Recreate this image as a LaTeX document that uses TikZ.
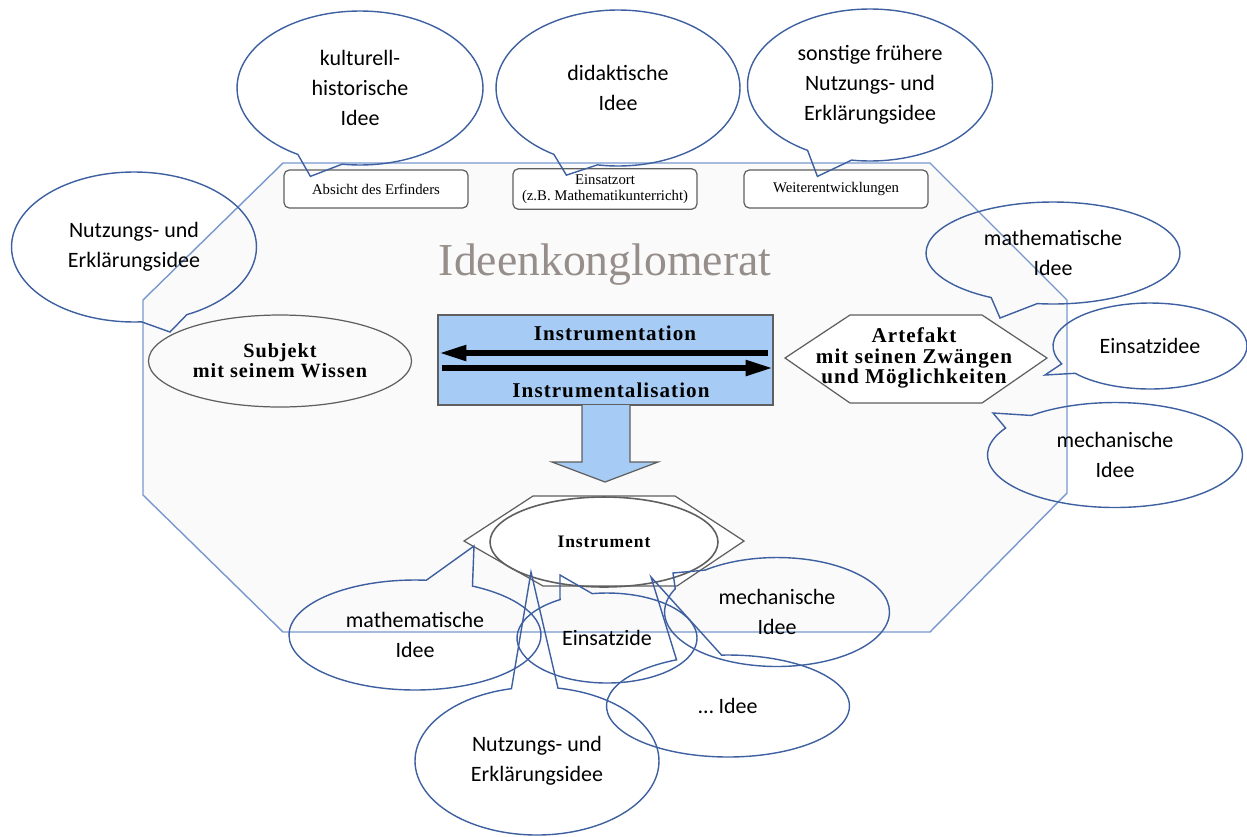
\documentclass[tikz,border=0pt]{standalone}
\usepackage{fontspec}
\setmainfont{Liberation Serif}
\newfontfamily\calibri{Carlito}
\newfontfamily\widebold[LetterSpace=5]{Liberation Serif}
\usetikzlibrary{shapes.geometric, shapes.callouts, arrows.meta, positioning, calc}
\definecolor{bubbleblue}{RGB}{62, 96, 160}
\definecolor{octblue}{RGB}{120, 152, 205}
\definecolor{boxblue}{RGB}{166, 204, 245}
\definecolor{titlegray}{RGB}{150, 142, 138}
\definecolor{framegray}{RGB}{95, 95, 95}

\begin{document}
\begin{tikzpicture}[x=0.02cm, y=-0.02cm,
    bubble/.style={ellipse callout, draw=bubbleblue, line width=0.8pt,
      callout pointer arc=22, align=center, inner sep=0pt,
      font=\calibri\fontsize{12.5}{17}\selectfont},
    smallbox/.style={draw=framegray, fill=white, rounded corners=3pt,
      line width=0.7pt, minimum width=3.68cm, minimum height=0.76cm,
      align=center, font=\fontsize{8.4}{9}\selectfont},
    shapeline/.style={draw=framegray, line width=0.7pt},
    boldtext/.style={font=\widebold\bfseries\fontsize{12}{11.5}\selectfont, align=center},
    flow/.style={-{Triangle[length=0.54cm, width=0.3cm]}, line width=3pt}
  ]
  \useasboundingbox (0,0) rectangle (1247,836);

  % Ideenkonglomerat
  \draw[octblue, line width=0.8pt, fill=black!2] (283,163) -- (930,163) -- (1067,300)
    -- (1067,493) -- (930,632) -- (283,632) -- (143,495) -- (143,300) -- cycle;
  \node[font=\fontsize{26}{26}\selectfont, text=titlegray, anchor=base] (title)
    at (605,275) {Ideenkonglomerat};

  % Upper boxes
  \foreach \name/\x/\txt in {absicht/376/Absicht des Erfinders,
      ort/605/Einsatzort\\(z.B. Mathematikunterricht),
      weiter/836/Weiterentwicklungen}{
    \node[smallbox] (\name) at (\x,189) {\txt};
  }

  % Subjekt
  \node[ellipse, shapeline, minimum width=4.68cm, minimum height=1.84cm, boldtext,
        font=\widebold\bfseries\fontsize{11.5}{11.3}\selectfont] (subjekt)
    at (280,361) {Subjekt\\mit seinem Wissen};

  % Instrumentation / Instrumentalisation
  \node[rectangle, shapeline, fill=boxblue, minimum width=6.7cm, minimum height=1.8cm]
    (genese) at (605.5,360) {};
  \node[boldtext] (instr) at (615,333) {Instrumentation};
  \node[boldtext] (instral) at (611,390) {Instrumentalisation};
  \draw[flow] ($(genese.east)+(-6,-7)$) -- ($(genese.west)+(2,-7)$);
  \draw[flow] ($(genese.west)+(5,8)$) -- ($(genese.east)+(-1,8)$);
  \draw[shapeline, fill=boxblue] (582,405) -- (582,462) -- (552,462) -- (605,482)
    -- (658,462) -- (630,462) -- (630,405);

  % Artefakt
  \draw[shapeline, fill=white] (785,358) -- (850,315) -- (982,315) -- (1047,358)
    -- (982,403) -- (850,403) -- cycle;
  \node[boldtext] (artefakt) at (914,358) {Artefakt\\mit seinen Zwängen\\und Möglichkeiten};

  % Instrument
  \draw[shapeline, fill=white] (464,541) -- (533,496) -- (675,496) -- (744,541)
    -- (677,586) -- (543,586) -- cycle;
  \node[ellipse, draw=framegray, line width=0.9pt, minimum width=4.56cm,
        minimum height=1.8cm, font=\widebold\bfseries\fontsize{10}{10}\selectfont]
    (instrument) at (604,542) {Instrument};

  % Pointer tips
  \coordinate (tipKult) at ($(absicht.north west)+(27,7)$);
  \coordinate (tipDid) at ($(ort.north west)+(54,7)$);
  \coordinate (tipSonst) at ($(weiter.north west)+(74,7)$);
  \coordinate (tipNutzL) at (170,332);
  \coordinate (tipMathR) at (1000,318);
  \coordinate (tipEinsR) at (1045,375);
  \coordinate (tipMechR) at (993,413);
  \coordinate (tipMathB) at (474,546);
  \coordinate (tipEinsB) at (560,575);
  \coordinate (tipNutzB) at (531,572);
  \coordinate (tipMechB) at (673,573);
  \coordinate (tipEtcB) at (651,577);

  % Ideas above
  \node[bubble, minimum width=4.92cm, minimum height=3.08cm,
        callout absolute pointer={(tipKult)}] (kultur) at (360,88) {kulturell-\\historische\\Idee};
  \node[bubble, minimum width=4.88cm, minimum height=3.12cm,
        callout absolute pointer={(tipDid)}] (didaktik) at (618,88) {didaktische\\Idee};
  \node[bubble, minimum width=4.9cm, minimum height=3.04cm,
        callout absolute pointer={(tipSonst)}] (sonstige) at (870,85) {sonstige frühere\\Nutzungs- und\\Erklärungsidee};
  \node[bubble, minimum width=4.9cm, minimum height=3cm,
        callout absolute pointer={(tipNutzL)}] (nutzL) at (134,247) {Nutzungs- und\\Erklärungsidee};

  % Ideas right
  \node[bubble, minimum width=5.08cm, minimum height=2.04cm,
        callout absolute pointer={(tipMathR)}] (mathR) at (1053,253) {mathematische\\Idee};
  \node[bubble, minimum width=3.88cm, minimum height=1.72cm, callout pointer arc=15,
        callout absolute pointer={(tipEinsR)}] (einsR) at (1150,346) {Einsatzidee};
  \node[bubble, minimum width=5.1cm, minimum height=2.1cm, callout pointer arc=18,
        callout absolute pointer={(tipMechR)}] (mechR) at (1115,455) {mechanische\\Idee};

  % Ideas below
  \node[bubble, minimum width=5.04cm, minimum height=2.2cm,
        callout absolute pointer={(tipMathB)}] (mathB) at (415,635) {mathematische\\Idee};
  \node[bubble, minimum width=3.6cm, minimum height=1.8cm,
        callout absolute pointer={(tipEinsB)}] (einsB) at (607,638) {Einsatzide};
  \node[bubble, minimum width=4.88cm, minimum height=2.96cm,
        callout absolute pointer={(tipNutzB)}] (nutzB) at (537,761) {Nutzungs- und\\Erklärungsidee};
  \node[bubble, minimum width=4.5cm, minimum height=2.18cm, callout pointer arc=25,
        callout absolute pointer={(tipMechB)}] (mechB) at (777,612) {mechanische\\Idee};
  \node[bubble, minimum width=4.86cm, minimum height=2.04cm,
        callout absolute pointer={(tipEtcB)}] (etcB) at (728,706) {\dots\ Idee};
\end{tikzpicture}
\end{document}
